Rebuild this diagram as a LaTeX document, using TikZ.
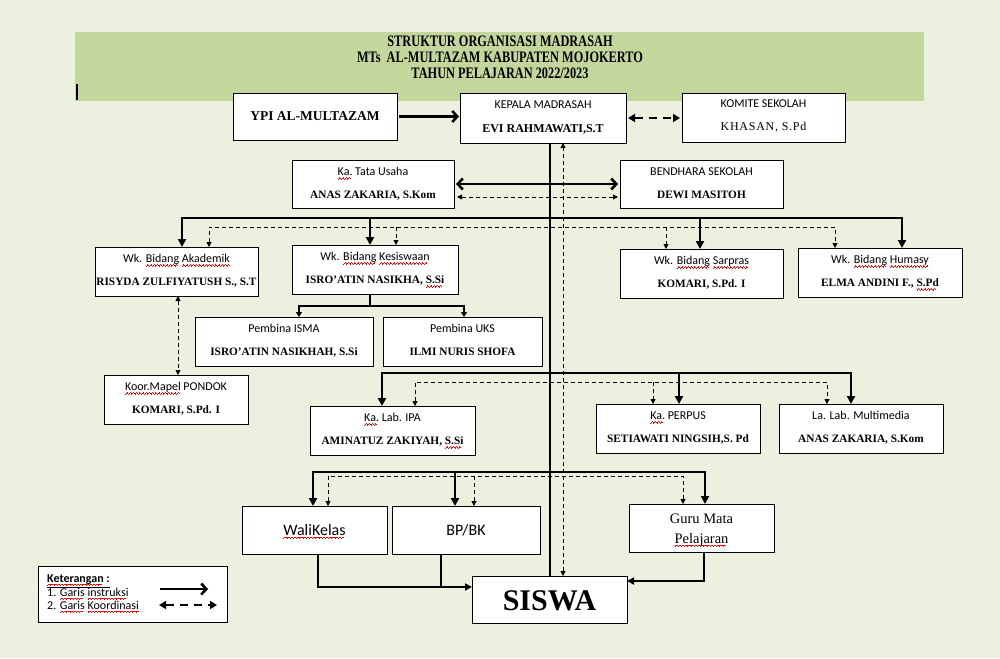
\documentclass[tikz,border=0pt]{standalone}
\usepackage{fontspec}
\setmainfont{Liberation Serif}
\newfontfamily\calib{Carlito}
\usepackage{graphicx}
\usetikzlibrary{arrows.meta,calc}
\definecolor{bgc}{RGB}{235,241,222}
\definecolor{band}{RGB}{195,214,155}
\newcommand\wv{\hbox{\rule[-3.6pt]{0.8pt}{0.6pt}\rule[-3.0pt]{0.8pt}{0.6pt}\rule[-2.4pt]{0.8pt}{0.6pt}\rule[-3.0pt]{0.8pt}{0.6pt}}}
\newcommand\rw[1]{\leavevmode\setbox0\hbox{#1}\rlap{\textcolor{red}{\hbox to \wd0{\leaders\wv\hfill}}}\box0\relax}
\newcommand\obox[5]{%
  \pgfmathsetmacro\bw{#4-#2}\pgfmathsetmacro\bh{#5-#3}%
  \node[box, minimum width=\bw pt, minimum height=\bh pt] (#1) at ({(#2+#4)/2},{(#3+#5)/2}) {};}
\newcommand\twol[3]{%
  \node[lbl] (#1-l) at ($(#1.north)+(0,15.5)$) {#2};
  \node[nm] (#1-n) at ($(#1.north)+(0,38.5)$) {#3};}
\tikzset{
 box/.style={draw=black, line width=0.9pt, fill=white, inner sep=0pt, outer sep=0pt},
 lbl/.style={font=\calib\fontsize{12}{14}\selectfont, anchor=base, inner sep=0pt},
 nm/.style={font=\bfseries\fontsize{11.3}{13}\selectfont, anchor=base, inner sep=0pt},
 ttl/.style={font=\bfseries\fontsize{16}{18}\selectfont, anchor=base, inner sep=0pt},
 plain/.style={anchor=base, inner sep=0pt},
 bus/.style={line width=2.6pt},
 sarr/.style={line width=2.6pt, -{Triangle[length=8pt,width=8pt]}},
 sboth/.style={line width=2.6pt, {Triangle[length=8pt,width=8pt]}-{Triangle[length=8pt,width=8pt]}},
 smboth/.style={line width=2.6pt, {Triangle[length=5pt,width=6pt]}-{Triangle[length=5pt,width=6pt]}},
 dline/.style={line width=0.9pt, dash pattern=on 4pt off 3pt},
 darr/.style={dline, -{Triangle[length=5pt,width=5pt]}},
 dboth/.style={dline, {Triangle[length=5pt,width=5pt]}-{Triangle[length=5pt,width=5pt]}},
 barb/.style={line width=2.6pt, -{Straight Barb[length=5pt,width=11pt]}},
 barbboth/.style={line width=2.6pt, {Straight Barb[length=5pt,width=11pt]}-{Straight Barb[length=5pt,width=11pt]}},
 kdash/.style={line width=2.6pt, dash pattern=on 8pt off 6pt, {Triangle[length=7pt,width=8pt]}-{Triangle[length=7pt,width=8pt]}},
 link/.style={line width=2pt},
 larr/.style={line width=2pt, -{Triangle[length=7pt,width=7pt]}},
}
\begin{document}
\begin{tikzpicture}[x=1pt,y=-1pt]
\useasboundingbox (0,0) rectangle (1000,658);
\fill[bgc] (0,0) rectangle (1000,658);
\fill[band] (75,32) rectangle (924,101);
\draw[line width=1.5pt] (77,84) -- (77,100);
\node[ttl] (t1) at (500,46.5) {\scalebox{0.77}[1]{STRUKTUR ORGANISASI MADRASAH}};
\node[ttl] (t2) at (500,62.5) {\scalebox{0.77}[1]{MTs~ AL-MULTAZAM KABUPATEN MOJOKERTO}};
\node[ttl] (t3) at (500,78.5) {\scalebox{0.77}[1]{TAHUN PELAJARAN 2022/2023}};

% boxes
\obox{ypi}{233}{93}{397}{140}
\obox{kep}{460}{93}{626}{143}
\obox{kom}{682}{93}{845}{142}
\obox{tu}{292}{160}{454}{208}
\obox{bend}{620}{160}{783}{208}
\obox{akad}{95}{247}{258}{296}
\obox{kes}{292}{245}{458}{294}
\obox{sar}{620}{249}{783}{298}
\obox{hum}{798}{248}{962}{297}
\obox{isma}{195}{317}{373}{366}
\obox{uks}{383}{317}{542}{366}
\obox{koor}{104}{375}{248}{424}
\obox{ipa}{310}{406}{475}{455}
\obox{perp}{596}{404}{760}{453}
\obox{mm}{779}{404}{943}{453}
\obox{wali}{242}{506}{387}{554}
\obox{bp}{392}{506}{540}{554}
\obox{guru}{629}{504}{774}{552}
\obox{siswa}{472}{576}{627}{623}
\obox{leg}{38}{566}{227}{622}

% texts
\node[plain, font=\bfseries\fontsize{13.5}{15}\selectfont] (ypi-t) at ($(ypi.north)+(0,28)$) {YPI AL-MULTAZAM};
\node[lbl] (kep-l) at ($(kep.north)+(0,15.5)$) {KEPALA MADRASAH};
\node[nm, font=\bfseries\fontsize{12}{14}\selectfont] (kep-n) at ($(kep.north)+(0,39)$) {EVI RAHMAWATI,S.T};
\node[lbl] (kom-l) at ($(kom.north)+(0,15)$) {KOMITE SEKOLAH};
\node[plain, font=\fontsize{12}{14}\selectfont\addfontfeature{LetterSpace=6}] (kom-n) at ($(kom.north)+(0,38)$) {KHASAN, S.Pd};
\twol{tu}{\rw{Ka.} Tata Usaha}{ANAS ZAKARIA, S.Kom}
\twol{bend}{BENDHARA SEKOLAH}{DEWI MASITOH}
\twol{akad}{Wk. \rw{Bidang} \rw{Akademik}}{RISYDA ZULFIYATUSH S., S.T}
\twol{kes}{Wk. \rw{Bidang} \rw{Kesiswaan}}{ISRO’ATIN NASIKHA, \rw{S.Si}}
\twol{sar}{Wk. \rw{Bidang} \rw{Sarpras}}{KOMARI, S.Pd. I}
\twol{hum}{Wk. \rw{Bidang} \rw{Humasy}}{ELMA ANDINI F., \rw{S.Pd}}
\twol{isma}{Pembina ISMA}{ISRO’ATIN NASIKHAH, S.Si}
\twol{uks}{Pembina UKS}{ILMI NURIS SHOFA}
\twol{koor}{\rw{Koor.Mapel} PONDOK}{KOMARI, S.Pd. I}
\twol{ipa}{\rw{Ka.} Lab. IPA}{AMINATUZ ZAKIYAH, \rw{S.Si}}
\twol{perp}{\rw{Ka.} PERPUS}{SETIAWATI NINGSIH,S. Pd}
\twol{mm}{La. Lab. Multimedia}{ANAS ZAKARIA, S.Kom}
\node[plain, font=\calib\fontsize{16}{18}\selectfont] (wali-t) at ($(wali.north)+(0,29)$) {\rw{WaliKelas}};
\node[plain, font=\calib\fontsize{16}{18}\selectfont] (bp-t) at ($(bp.north)+(0,29)$) {BP/BK};
\node[plain, font=\fontsize{14.5}{16}\selectfont] (guru-a) at ($(guru.north)+(0,19)$) {Guru Mata};
\node[plain, font=\fontsize{14.5}{16}\selectfont] (guru-b) at ($(guru.north)+(0,39)$) {\rw{Pelajaran}};
\node[plain, font=\bfseries\fontsize{30}{32}\selectfont] (siswa-t) at ($(siswa.north)+(0,34)$) {SISWA};

% legend
\node[plain, anchor=base west, font=\calib\bfseries\fontsize{12}{14}\selectfont] (leg-a) at (47,582) {\underline{\rw{Keterangan} :}};
\node[plain, anchor=base west, font=\calib\fontsize{12}{14}\selectfont] (leg-b) at (47,596) {1. \rw{Garis} \rw{instruksi}};
\node[plain, anchor=base west, font=\calib\fontsize{12}{14}\selectfont] (leg-c) at (47,609) {2. \rw{Garis} \rw{Koordinasi}};
\coordinate (la1) at (160,589); \coordinate (la2) at (208,589);
\coordinate (lb1) at (159,605); \coordinate (lb2) at (217,605);
\draw[barb] (la1) -- (la2);
\draw[kdash] (lb1) -- (lb2);

% top connectors
\draw[barb, shorten <=2pt, shorten >=1pt] (ypi.east) -- (ypi.east -| kep.west);
\draw[kdash, shorten <=2pt, shorten >=2pt] (kep.east) -- (kep.east -| kom.west);
\draw[barbboth, shorten <=2pt, shorten >=2pt] (tu.east) -- (tu.east -| bend.west);
\draw[dboth, shorten <=3pt, shorten >=2pt] ($(tu.east)+(0,13)$) -- ($(bend.west)+(0,13)$);

% main spine
\draw[bus] ($(kep.south)+(7,0)$) -- ($(siswa.north)+(0.5,0)$);
\draw[dboth] ($(siswa.north)+(13.5,0)$) -- ($(kep.south)+(20,0)$);

% wakil bus
\coordinate (w1) at (182,218); \coordinate (w2) at (370,218);
\coordinate (w3) at (700,218); \coordinate (w4) at (902,218);
\draw[sboth] (w1 |- akad.north) -- (w1) -- (w4) -- (w4 |- hum.north);
\draw[sarr] (w2) -- (w2 |- kes.north);
\draw[sarr] (w3) -- (w3 |- sar.north);
\coordinate (v1) at (209,227); \coordinate (v2) at (396,227);
\coordinate (v3) at (666,227); \coordinate (v4) at (835,227);
\draw[dboth] (v1 |- akad.north) -- (v1) -- (v4) -- (v4 |- hum.north);
\draw[darr] (v2) -- (v2 |- kes.north);
\draw[darr] (v3) -- (v3 |- sar.north);

% kesiswaan to pembina
\coordinate (p0) at (370,306); \coordinate (p1) at (299,306); \coordinate (p2) at (464,306);
\draw[bus] (p0 |- kes.south) -- (p0);
\draw[smboth] (p1 |- isma.north) -- (p1) -- (p2) -- (p2 |- uks.north);

% akademik to koor
\coordinate (k1) at (178,330);
\draw[dboth] (k1 |- akad.south) -- (k1 |- koor.north);

% lab bus
\coordinate (l1) at (382,373); \coordinate (l2) at (679,373); \coordinate (l3) at (851,373);
\draw[sboth] (l1 |- ipa.north) -- (l1) -- (l3) -- (l3 |- mm.north);
\draw[sarr] (l2) -- (l2 |- perp.north);
\coordinate (m1) at (415,382); \coordinate (m2) at (653,382); \coordinate (m3) at (827,382);
\draw[dboth] (m1 |- ipa.north) -- (m1) -- (m3) -- (m3 |- mm.north);
\draw[darr] (m2) -- (m2 |- perp.north);

% bottom bus
\coordinate (g1) at (313,472); \coordinate (g2) at (455,472); \coordinate (g3) at (705,472);
\draw[sboth] (g1 |- wali.north) -- (g1) -- (g3) -- (g3 |- guru.north);
\draw[sarr] (g2) -- (g2 |- bp.north);
\coordinate (h1) at (328,476); \coordinate (h2) at (474,476); \coordinate (h3) at (683,476);
\draw[dboth] (h1 |- wali.north) -- (h1) -- (h3) -- (h3 |- guru.north);
\draw[darr] (h2) -- (h2 |- bp.north);

% to siswa
\coordinate (s1) at (318,587); \coordinate (s2) at (441,587); \coordinate (s3) at (704,581);
\draw[larr] (s1 |- wali.south) -- (s1) -- (s1 -| siswa.west);
\draw[link] (s2 |- bp.south) -- (s2);
\draw[larr] (s3 |- guru.south) -- (s3) -- (s3 -| siswa.east);
\end{tikzpicture}
\end{document}
